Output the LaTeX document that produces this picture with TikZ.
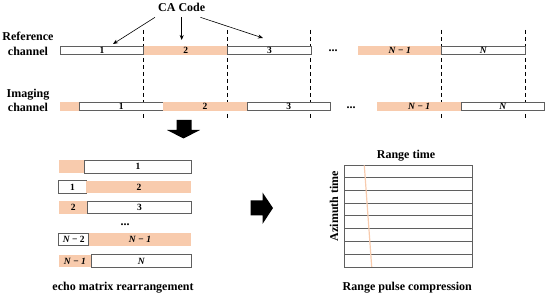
\documentclass[tikz,border=0pt]{standalone}
\usepackage{fontspec}
\setmainfont{Liberation Serif}
\usetikzlibrary{arrows.meta}
\definecolor{org}{RGB}{248,203,173}
\definecolor{edg}{RGB}{95,95,95}
\begin{document}
\begin{tikzpicture}[x=1pt,y=-1pt,
  seg/.style={draw=edg, line width=0.8pt, fill=white, minimum height=8.5pt, inner sep=0pt, anchor=north west, font=\bfseries\fontsize{9.5}{9.5}\selectfont},
  oseg/.style={seg, draw=none, fill=org},
  rseg/.style={seg, minimum height=12.7pt},
  roseg/.style={rseg, draw=none, fill=org},
  lab/.style={font=\bfseries\fontsize{12}{14.5}\selectfont, align=center, inner sep=3pt},
  arr/.style={-{Stealth[length=5pt,width=4pt]}, line width=0.6pt},
  dline/.style={dashed, dash pattern=on 4pt off 3pt, line width=0.7pt},
  grd/.style={draw=edg, line width=0.8pt}]
\useasboundingbox (0,0) rectangle (550,296);
% labels
\node[lab] (CA) at (181.7,6.9) {CA Code};
\node[lab] (refl) at (28,44) {Reference\\channel};
\node[lab] (imgl) at (28,100.5) {Imaging\\channel};
% dashed lines
\foreach \x in {143.3,227.3,310.7,441,525} \draw[dline] (\x,30) -- (\x,120);
% reference channel
\node[seg, minimum width=83.3pt] (r1) at (60,46) {1};
\node[oseg, minimum width=84pt] (r2) at (143.3,46) {2};
\node[seg, minimum width=83.4pt] (r3) at (227.3,46) {3};
\node[oseg, minimum width=83.3pt] (rN1) at (357.7,46) {\itshape N − 1};
\node[seg, minimum width=84pt] (rN) at (441,46) {\itshape N};
\node[font=\bfseries\fontsize{12}{12}\selectfont] (d1) at (333,51) {...};
% imaging channel
\node[oseg, minimum width=19pt] (i0) at (60,101.7) {};
\node[seg, minimum width=83.7pt] (i1) at (79,101.7) {1};
\node[oseg, minimum width=84pt] (i2) at (162.7,101.7) {2};
\node[seg, minimum width=83.3pt] (i3) at (246.7,101.7) {3};
\node[oseg, minimum width=84pt] (iN1) at (376.7,101.7) {\itshape N − 1};
\node[seg, minimum width=83.3pt] (iN) at (460.7,101.7) {\itshape N};
\node[font=\bfseries\fontsize{12}{12}\selectfont] (d2) at (351,108) {...};
% CA arrows
\coordinate (ca1) at (113,44);
\coordinate (ca2) at (181.7,40);
\coordinate (ca3) at (263,38);
\draw[arr] ([xshift=0pt,yshift=-3pt]CA.south west) -- (ca1);
\draw[arr] ([yshift=-3pt]CA.south) -- (ca2);
\draw[arr] ([xshift=-8pt,yshift=-3pt]CA.south east) -- (ca3);
% block arrows
\fill (176.7,120) -- (191.7,120) -- (191.7,130) -- (200,130) -- (183.5,138.5) -- (167,130) -- (176.7,130) -- cycle;
\fill (250.7,200.5) -- (262.5,200.5) -- (262.5,192.5) -- (273,208) -- (262.5,224) -- (262.5,215.5) -- (250.7,215.5) -- cycle;
% rearranged rows
\node[roseg, minimum width=26pt] (a1) at (58.3,160) {};
\node[rseg, minimum width=106.7pt] (b1) at (84.3,160) {1};
\node[rseg, minimum width=27.7pt] (a2) at (58.3,180.3) {1};
\node[roseg, minimum width=105pt] (b2) at (86,180.3) {2};
\node[roseg, minimum width=29pt] (a3) at (58.3,200.7) {2};
\node[rseg, minimum width=103.7pt] (b3) at (87.3,200.7) {3};
\node[font=\bfseries\fontsize{12}{12}\selectfont] (d3) at (125,225) {...};
\node[rseg, minimum width=30pt] (a4) at (58.3,232.7) {\itshape N\upshape\ − 2};
\node[roseg, minimum width=102.7pt] (b4) at (88.3,232.7) {\itshape N − 1};
\node[roseg, minimum width=32.4pt] (a5) at (58.3,254.3) {\itshape N − 1};
\node[rseg, minimum width=100.3pt] (b5) at (90.7,254.3) {\itshape N};
\node[lab] (cap1) at (123,287.5) {echo matrix rearrangement};
% grid
\node[grd, minimum width=127.7pt, minimum height=102.3pt, inner sep=0pt, anchor=north west] (grid) at (344,165) {};
\foreach \y in {177.7,190.7,203.3,215.7,228.7,241.3,254.3} \draw[grd] (344,\y) -- (471.7,\y);
\draw[org, line width=1.2pt] (364.3,165.4) -- (371.7,266.9);
\node[lab] (rt) at (406,155.5) {Range time};
\node[lab, rotate=90] (az) at (334,206) {Azimuth time};
\node[lab] (cap2) at (407.3,287.5) {Range pulse compression};
\end{tikzpicture}
\end{document}
